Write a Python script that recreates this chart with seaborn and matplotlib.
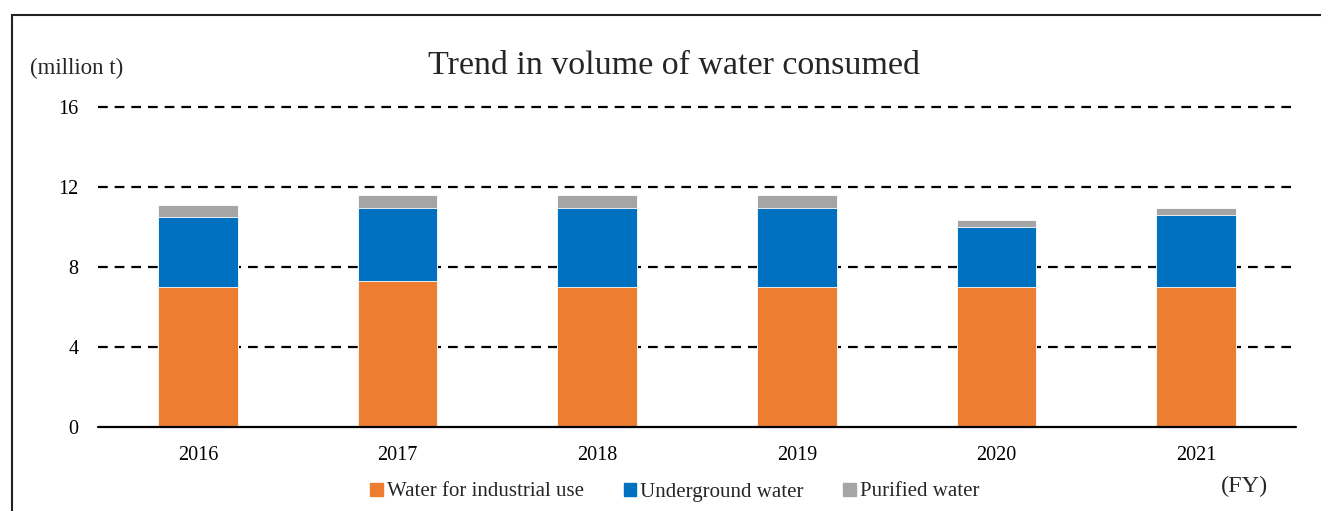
import matplotlib
matplotlib.use("Agg")
import matplotlib.pyplot as plt
import matplotlib.patches as mpatches
import seaborn as sns
import pandas as pd

years = ["2016", "2017", "2018", "2019", "2020", "2021"]
industrial = [7.0, 7.3, 7.0, 7.0, 7.0, 7.0]
underground = [3.5, 3.65, 3.95, 3.95, 3.0, 3.6]
purified = [0.6, 0.65, 0.65, 0.65, 0.35, 0.35]

labels = ["Water for industrial use", "Underground water", "Purified water"]
colors = ["#ED7D31", "#0070C0", "#A5A5A5"]

df = pd.DataFrame({"year": years, "ind": industrial, "und": underground, "pur": purified})
df["c2"] = df["ind"] + df["und"]
df["c3"] = df["c2"] + df["pur"]

sns.set_style("white")
plt.rcParams["font.family"] = ["Liberation Serif", "DejaVu Serif"]
plt.rcParams["lines.scale_dashes"] = False

fig = plt.figure(figsize=(13.21, 5.11), dpi=100)
ax = fig.add_axes([0.0742, 0.1644, 0.9068, 0.6262])

# stacked bars: draw cumulative totals from the top down
for col, c in zip(["c3", "c2", "ind"], colors[::-1]):
    sns.barplot(data=df, x="year", y=col, color=c, width=0.4, ax=ax, saturation=1,
                edgecolor="white", linewidth=0.6, zorder=3)

ax.set_ylim(0, 16)
ax.set_yticks([0, 4, 8, 12, 16])
ax.set_xlim(-0.5, 5.5)
for yv in [4, 8, 12, 16]:
    ax.axhline(yv, color="black", lw=1.6, ls=(0, (7, 5)), zorder=1, clip_on=False)
ax.axhline(0, color="black", lw=1.6, zorder=4, clip_on=False)

sns.despine(ax=ax, left=True, bottom=True, top=True, right=True)
ax.tick_params(axis="both", length=0, labelsize=14.5, colors="black")
ax.tick_params(axis="x", pad=14)
ax.tick_params(axis="y", pad=14)
ax.set_xlabel("")
ax.set_ylabel("")

fig.text(674 / 1321, 1 - 66 / 511, "Trend in volume of water consumed",
         ha="center", va="center", fontsize=24.5)
fig.text(30 / 1321, 1 - 68 / 511, "(million t)", ha="left", va="center", fontsize=16.5)
fig.text(1245 / 1321, 1 - 486 / 511, "(FY)", ha="center", va="center", fontsize=17.5)

handles = [mpatches.Patch(color=c, label=l) for c, l in zip(colors, labels)]
fig.legend(handles=handles, loc="center", bbox_to_anchor=(675 / 1321, 1 - 492 / 511),
           ncol=3, frameon=False, fontsize=15, handlelength=0.6, handleheight=0.6,
           handletextpad=0.2, columnspacing=1.9, borderpad=0)

# outer frame (left and top visible)
fig.patches.append(mpatches.Rectangle((12 / 1321, -0.1), 1.2, 1 - 15 / 511 + 0.1,
                                      transform=fig.transFigure, fill=False,
                                      edgecolor="#222222", lw=1.5))

fig.savefig("out.png", dpi=100)
